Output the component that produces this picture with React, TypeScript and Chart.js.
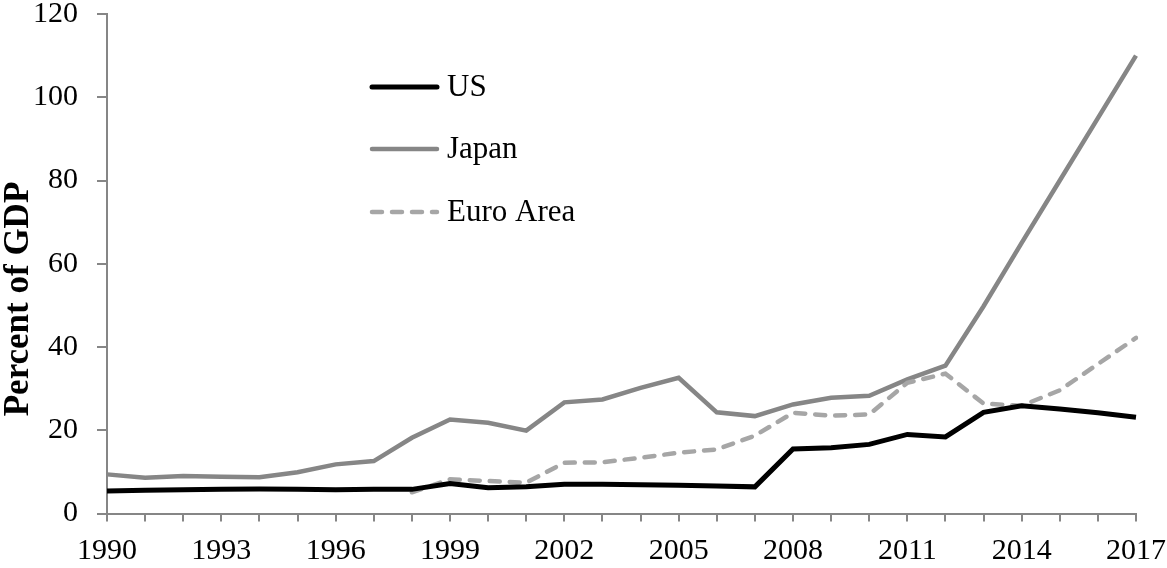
import React, { useEffect, useRef } from "react";
import { Chart, registerables } from "chart.js";

Chart.register(...registerables);

const years: string[] = [
  "1990", "1991", "1992", "1993", "1994", "1995", "1996", "1997", "1998", "1999",
  "2000", "2001", "2002", "2003", "2004", "2005", "2006", "2007", "2008", "2009",
  "2010", "2011", "2012", "2013", "2014", "2015", "2016", "2017",
];

const usValues: number[] = [
  5.4, 5.6, 5.7, 5.8, 5.9, 5.8, 5.7, 5.8, 5.8, 7.2,
  6.2, 6.4, 7.0, 7.0, 6.9, 6.8, 6.6, 6.4, 15.5, 15.8,
  16.6, 19.0, 18.4, 24.3, 25.9, 25.1, 24.2, 23.1,
];

const japanValues: number[] = [
  9.4, 8.6, 9.0, 8.8, 8.7, 9.9, 11.8, 12.6, 18.2, 22.6,
  21.8, 19.9, 26.7, 27.4, 30.2, 32.6, 24.3, 23.4, 26.2, 27.8,
  28.3, 32.2, 35.5, 49.8, 65.0, 80.0, 95.0, 110.0,
];

const euroValues: (number | null)[] = [
  null, null, null, null, null, null, null, null, 5.1, 8.2,
  7.8, 7.4, 12.2, 12.3, 13.4, 14.6, 15.4, 18.7, 24.2, 23.5,
  23.8, 31.4, 33.6, 26.4, 25.9, 29.6, 35.9, 42.2,
];

const seriesNames = ["US", "Japan", "Euro Area"];
const yTitle = "Percent of GDP";

const FONT = "'Liberation Serif', 'Times New Roman', serif";
const AXIS_COLOR = "#868686";

const overlayPlugin = {
  id: "overlay",
  afterDraw(chart: any) {
    const ctx = chart.ctx as CanvasRenderingContext2D;
    ctx.save();
    // y-axis title
    ctx.translate(19, 299);
    ctx.rotate(-Math.PI / 2);
    ctx.font = `bold 35px ${FONT}`;
    ctx.fillStyle = "#000";
    ctx.textAlign = "center";
    ctx.textBaseline = "middle";
    ctx.fillText(yTitle, 0, 0);
    ctx.restore();

    // legend
    const rows = [87, 149, 212];
    chart.data.datasets.forEach((ds: any, i: number) => {
      const y = rows[i];
      ctx.save();
      ctx.strokeStyle = ds.borderColor;
      ctx.lineWidth = ds.borderWidth;
      ctx.lineCap = "round";
      ctx.setLineDash(ds.borderDash || []);
      ctx.beginPath();
      ctx.moveTo(372, y);
      ctx.lineTo(437, y);
      ctx.stroke();
      ctx.setLineDash([]);
      ctx.fillStyle = "#000";
      ctx.font = `31px ${FONT}`;
      ctx.textAlign = "left";
      ctx.textBaseline = "middle";
      ctx.fillText(ds.label, 447, y + 1);
      ctx.restore();
    });
  },
};

export default function App() {
  const canvasRef = useRef<HTMLCanvasElement | null>(null);

  useEffect(() => {
    if (!canvasRef.current) return;
    const chart = new Chart(canvasRef.current, {
      type: "line",
      data: {
        labels: years,
        datasets: [
          {
            label: seriesNames[0],
            data: usValues,
            borderColor: "#000000",
            backgroundColor: "#000000",
            borderWidth: 5,
            pointRadius: 0,
            tension: 0,
            order: 1,
          },
          {
            label: seriesNames[1],
            data: japanValues,
            borderColor: "#868686",
            backgroundColor: "#868686",
            borderWidth: 4.5,
            pointRadius: 0,
            tension: 0,
            order: 3,
          },
          {
            label: seriesNames[2],
            data: euroValues,
            borderColor: "#A6A6A6",
            backgroundColor: "#A6A6A6",
            borderWidth: 4.5,
            borderDash: [10, 10],
            borderCapStyle: "round",
            pointRadius: 0,
            tension: 0,
            spanGaps: false,
            order: 2,
          },
        ],
      },
      options: {
        responsive: false,
        animation: false,
        layout: { padding: 0 },
        plugins: {
          legend: { display: false },
          tooltip: { enabled: false },
        },
        scales: {
          x: {
            type: "category",
            offset: false,
            grid: {
              display: true,
              drawOnChartArea: false,
              drawTicks: true,
              tickLength: 8,
              color: AXIS_COLOR,
              lineWidth: 2,
            },
            border: { display: true, color: AXIS_COLOR, width: 2 },
            ticks: {
              autoSkip: false,
              maxRotation: 0,
              minRotation: 0,
              padding: 12,
              color: "#000",
              font: { family: FONT, size: 30, lineHeight: 1.2 },
              callback: (_v: any, i: number) => (i % 3 === 0 ? years[i] : ""),
            },
            afterFit: (scale: any) => {
              scale.height = 54.5;
              scale.paddingLeft = 0;
              scale.paddingRight = 31;
            },
          },
          y: {
            min: 0,
            max: 120,
            grid: {
              display: true,
              drawOnChartArea: false,
              drawTicks: true,
              tickLength: 10,
              color: AXIS_COLOR,
              lineWidth: 2,
            },
            border: { display: true, color: AXIS_COLOR, width: 2 },
            ticks: {
              stepSize: 20,
              padding: 19,
              color: "#000",
              font: { family: FONT, size: 30, lineHeight: 1.2 },
            },
            afterFit: (scale: any) => {
              scale.width = 107;
              scale.paddingTop = 14;
              scale.paddingBottom = 0;
            },
          },
        },
      },
      plugins: [overlayPlugin],
    });
    return () => chart.destroy();
  }, []);

  return (
    <div style={{ position: "fixed", left: 0, top: 0, width: 1167, height: 568, background: "#fff" }}>
      <canvas ref={canvasRef} width={1167} height={568} style={{ width: 1167, height: 568, display: "block" }} />
    </div>
  );
}
